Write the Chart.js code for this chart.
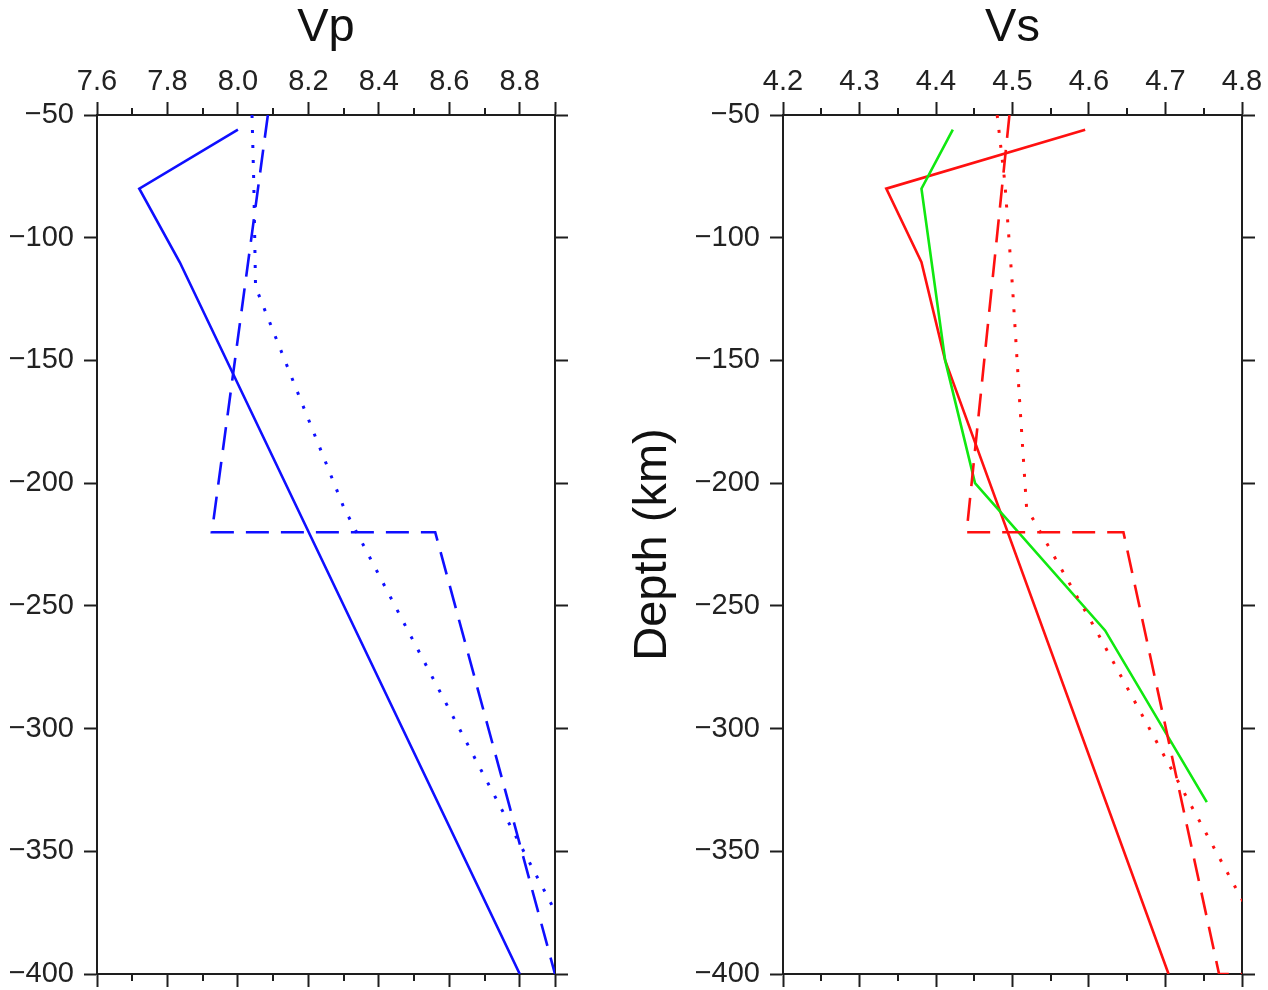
<!DOCTYPE html>
<html>
<head>
<meta charset="utf-8">
<title>Vp / Vs depth profiles</title>
<script src="https://cdn.jsdelivr.net/npm/chart.js@4.4.1/dist/chart.umd.min.js"></script>
<style>
  html, body { margin: 0; padding: 0; background: #ffffff; }
  #wrap { position: relative; width: 1268px; height: 990px; overflow: hidden; background: #ffffff; }
  .panel { position: absolute; top: 0; height: 990px; }
  #vpBox { left: 0; width: 620px; }
  #vsBox { left: 620px; width: 648px; }
</style>
</head>
<body>
<div id="wrap">
  <div class="panel" id="vpBox"><canvas id="vpChart"></canvas></div>
  <div class="panel" id="vsBox"><canvas id="vsChart"></canvas></div>
</div>
<script>
// ---- axes (depth in km, negative downward; velocity in km/s) ----
const depthTicks   = [-50, -100, -150, -200, -250, -300, -350, -400];
const vpTicks      = [7.6, 7.8, 8.0, 8.2, 8.4, 8.6, 8.8, 8.9];
const vpMinorTicks = [7.7, 7.9, 8.1, 8.3, 8.5, 8.7];
const vsTicks      = [4.2, 4.3, 4.4, 4.5, 4.6, 4.7, 4.8];
const vsMinorTicks = [4.25, 4.35, 4.45, 4.55, 4.65, 4.75];

// ---- solid profile ----
const solidVpDepth = [-56, -80, -110, -400];
const solidVp      = [8.00, 7.72, 7.835, 8.80];
const solidVsDepth = [-56, -80, -110, -150, -400];
const solidVs      = [4.595, 4.335, 4.381, 4.412, 4.704];

// ---- dashed profile (steps at 220 km and 400 km) ----
const dashedVpDepth = [-50, -220, -220, -400];
const dashedVp      = [8.085, 7.926, 8.56, 8.90];
const dashedVsDepth = [-50, -220, -220, -400, -400];
const dashedVs      = [4.496, 4.44, 4.645, 4.77, 4.93];

// ---- dotted profile ----
const dottedDepth = [-50, -77.5, -120, -165, -210, -260, -310, -360, -410];
const dottedVp    = [8.04, 8.045, 8.05, 8.175, 8.3007, 8.4822, 8.665, 8.8476, 9.0302];
const dottedVs    = [4.48, 4.49, 4.50, 4.509, 4.5184, 4.6094, 4.6964, 4.7832, 4.8702];

// ---- green Vs profile ----
const greenDepth = [-56, -80, -150, -200, -260, -330];
const greenVs    = [4.422, 4.381, 4.412, 4.451, 4.621, 4.754];

const BLUE = '#0f0fff';
const RED = '#ff1010';
const GREEN = '#10e810';
const AXIS = '#1e1e1e';
const FONT = "'Liberation Sans', Arial, Helvetica, sans-serif";

function series(depths, vals, color, style) {
  return {
    data: depths.map((d, i) => ({ x: vals[i], y: d })),
    showLine: true,
    borderColor: color,
    backgroundColor: color,
    borderWidth: style === 'dot' ? 3 : 2.6,
    borderDash: style === 'dash' ? [23, 12] : style === 'dot' ? [3, 12] : [],
    borderCapStyle: 'butt',
    borderJoinStyle: 'miter',
    pointRadius: 0,
    pointHoverRadius: 0,
    tension: 0,
    fill: false
  };
}

const fixTicks = list => scale => { scale.ticks = list.map(v => ({ value: v })); };
const fmtDepth = v => (v < 0 ? '\u2212' + Math.abs(v) : String(v));
// fixed box size, no extra room reserved for end labels
const fixSize = (prop, px) => scale => {
  scale[prop] = px;
  scale.paddingTop = 0; scale.paddingBottom = 0;
  scale.paddingLeft = 0; scale.paddingRight = 0;
};

const gridOpts = {
  drawOnChartArea: false,
  drawTicks: true,
  tickLength: 13,
  tickWidth: 2,
  tickColor: AXIS
};
const borderOpts = { display: true, color: AXIS, width: 2 };

// short ticks between the labelled ones, on the top and bottom frame
const minorTicks = {
  id: 'minorTicks',
  afterDraw(chart, args, opts) {
    const { ctx, chartArea } = chart;
    const sx = chart.scales.x;
    ctx.save();
    ctx.strokeStyle = AXIS;
    ctx.lineWidth = 2;
    ctx.beginPath();
    opts.values.forEach(v => {
      const px = Math.round(sx.getPixelForValue(v));
      ctx.moveTo(px, chartArea.top);
      ctx.lineTo(px, chartArea.top - opts.length);
      ctx.moveTo(px, chartArea.bottom);
      ctx.lineTo(px, chartArea.bottom + opts.length);
    });
    ctx.stroke();
    ctx.restore();
  }
};

function panel(canvasId, cfg) {
  const tickFont = { family: FONT, size: 29 };
  return new Chart(document.getElementById(canvasId), {
    type: 'scatter',
    data: { datasets: cfg.datasets },
    options: {
      responsive: true,
      maintainAspectRatio: false,
      animation: false,
      devicePixelRatio: 1,
      events: [],
      layout: { padding: 0 },
      plugins: {
        legend: { display: false },
        tooltip: { enabled: false },
        title: { display: false },
        minorTicks: { values: cfg.minor, length: 7 }
      },
      scales: {
        x: {
          type: 'linear', position: 'top', min: cfg.xMin, max: cfg.xMax,
          afterBuildTicks: fixTicks(cfg.xTicks),
          afterFit: fixSize('height', 115),
          grid: gridOpts, border: borderOpts,
          ticks: {
            font: tickFont, color: '#222', padding: 3, autoSkip: false, maxRotation: 0,
            callback: v => (cfg.xLabelled.includes(v) ? v.toFixed(1) : '')
          },
          title: {
            display: true, text: cfg.title, color: '#111',
            font: { family: FONT, size: 47 }, padding: { top: 0, bottom: 0 }
          }
        },
        x2: {
          type: 'linear', position: 'bottom', min: cfg.xMin, max: cfg.xMax,
          afterBuildTicks: fixTicks(cfg.xTicks),
          afterFit: fixSize('height', 16),
          grid: gridOpts, border: borderOpts,
          ticks: { display: false }
        },
        y: {
          type: 'linear', position: 'left', min: -400, max: -50,
          afterBuildTicks: fixTicks(depthTicks),
          afterFit: fixSize('width', cfg.leftWidth),
          grid: gridOpts, border: borderOpts,
          ticks: { font: tickFont, color: '#222', padding: 10, autoSkip: false, callback: fmtDepth },
          title: cfg.yTitle ? {
            display: true, text: cfg.yTitle, color: '#111',
            font: { family: FONT, size: 47 }, padding: { top: 5, bottom: 0 }
          } : { display: false }
        },
        y2: {
          type: 'linear', position: 'right', min: -400, max: -50,
          afterBuildTicks: fixTicks(depthTicks),
          afterFit: fixSize('width', cfg.rightWidth),
          grid: gridOpts, border: borderOpts,
          ticks: { display: false }
        }
      }
    },
    plugins: [minorTicks]
  });
}

panel('vpChart', {
  title: 'Vp',
  xMin: 7.6, xMax: 8.9,
  xTicks: vpTicks,
  xLabelled: [7.6, 7.8, 8.0, 8.2, 8.4, 8.6, 8.8],
  minor: vpMinorTicks,
  leftWidth: 97,
  rightWidth: 65,
  yTitle: null,
  datasets: [
    series(dottedDepth, dottedVp, BLUE, 'dot'),
    series(dashedVpDepth, dashedVp, BLUE, 'dash'),
    series(solidVpDepth, solidVp, BLUE, 'solid')
  ]
});

panel('vsChart', {
  title: 'Vs',
  xMin: 4.2, xMax: 4.8,
  xTicks: vsTicks,
  xLabelled: vsTicks,
  minor: vsMinorTicks,
  leftWidth: 163,
  rightWidth: 26,
  yTitle: 'Depth (km)',
  datasets: [
    series(dottedDepth, dottedVs, RED, 'dot'),
    series(dashedVsDepth, dashedVs, RED, 'dash'),
    series(greenDepth, greenVs, GREEN, 'solid'),
    series(solidVsDepth, solidVs, RED, 'solid')
  ]
});
</script>
</body>
</html>
